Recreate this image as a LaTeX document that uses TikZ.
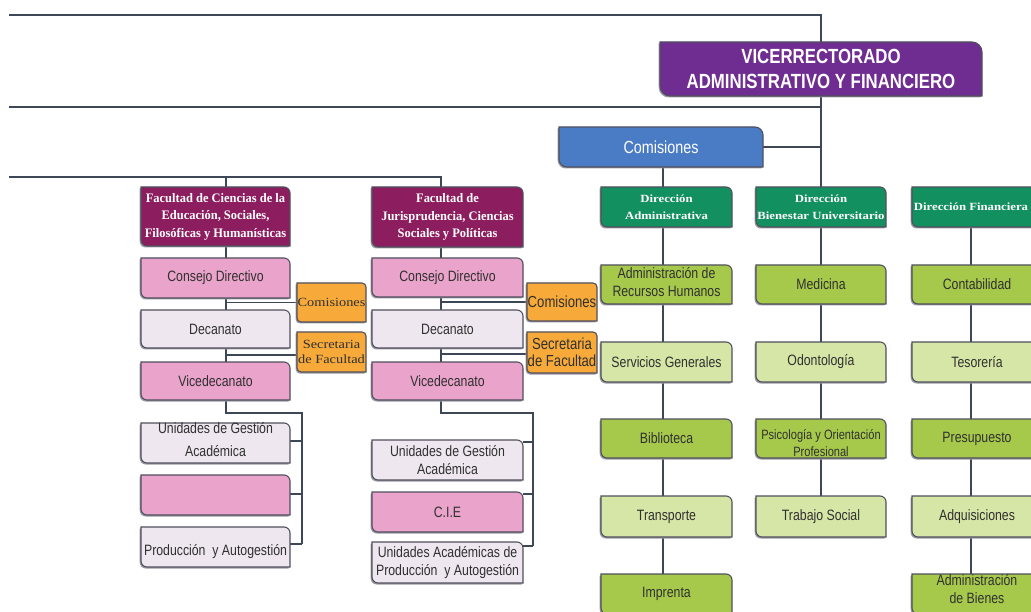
\documentclass[tikz,border=0pt]{standalone}
\usepackage{fontspec}
\setmainfont{Liberation Sans}
\newfontfamily\narf[FakeStretch=0.82]{Liberation Sans}
\newfontfamily\facf[FakeStretch=0.96]{Liberation Serif}
\newfontfamily\dirf[FakeStretch=1.16]{Liberation Serif}
\newfontfamily\orgf[FakeStretch=1.15]{Liberation Serif}
\definecolor{cpur}{HTML}{6F2C91}
\definecolor{cblu}{HTML}{4A7CC6}
\definecolor{cmar}{HTML}{8C1D5E}
\definecolor{cpnk}{HTML}{EAA3CB}
\definecolor{clgt}{HTML}{EFE7EF}
\definecolor{corg}{HTML}{F7AA3A}
\definecolor{ctea}{HTML}{13905F}
\definecolor{cdgr}{HTML}{A6C94C}
\definecolor{clgr}{HTML}{D6E6A6}
\definecolor{clin}{HTML}{3E4757}
\definecolor{cbdr}{HTML}{50505E}
\definecolor{ctxt}{HTML}{303030}
\definecolor{cshd}{HTML}{9A9AA4}
\pgfdeclarelayer{lines}
\pgfdeclarelayer{boxes}
\pgfsetlayers{lines,boxes,main}
\newcommand\dbox[3][6pt]{%
  \fill[cshd, transform canvas={shift={(-1.3pt,-1.5pt)}}] (#2.north west) -- ([xshift=-#1]#2.north east) arc[start angle=90,end angle=0,radius=#1] -- (#2.south east) -- ([xshift=#1]#2.south west) arc[start angle=270,end angle=180,radius=#1] -- cycle;
  \filldraw[fill=#3, draw=cbdr, line width=1.1pt] (#2.north west) -- ([xshift=-#1]#2.north east) arc[start angle=90,end angle=0,radius=#1] -- (#2.south east) -- ([xshift=#1]#2.south west) arc[start angle=270,end angle=180,radius=#1] -- cycle;}
\begin{document}
\begin{tikzpicture}[x=1pt,y=-1pt,
  bx/.style 2 args={minimum width=#1pt, minimum height=#2pt, inner sep=0pt, outer sep=0pt, align=center, text=ctxt, font=\narf\fontsize{15}{18}\selectfont},
  txt/.style={inner sep=0pt, outer sep=0pt, align=center, text=ctxt, font=\narf\fontsize{15}{18}\selectfont},
  factxt/.style={text=white, font=\facf\bfseries\fontsize{13}{17.5}\selectfont},
  dirtxt/.style={text=white, font=\dirf\bfseries\fontsize{11}{16.5}\selectfont},
  orgtxt/.style={font=\orgf\fontsize{12.5}{15}\selectfont},
  org2txt/.style={font=\narf\fontsize{16}{17}\selectfont},
  ln/.style={draw=clin, line width=1.3pt}]
\useasboundingbox (0,0) rectangle (1031,612);

% ---- top
\node[bx={322}{54}, text=white, font=\narf\bfseries\fontsize{20.5}{24.5}\selectfont] (vic) at (821,69) {VICERRECTORADO\\ADMINISTRATIVO Y FINANCIERO};
\node[bx={204}{40}, text=white, font=\narf\fontsize{17.5}{20}\selectfont] (com) at (661,147) {Comisiones};

% ---- faculty 1
\node[bx={149}{59}, factxt] (fac1) at (215.5,216.5) {Facultad de Ciencias de la\\Educación, Sociales,\\Filosóficas y Humanísticas};
\node[bx={149}{40}] (cd1) at (215.5,278) {Consejo Directivo};
\node[bx={149}{38}] (dec1) at (215.5,329) {Decanato};
\node[bx={149}{38}] (vice1) at (215.5,381) {Vicedecanato};
\node[bx={69}{39}, orgtxt] (com1) at (331.5,302.5) {Comisiones};
\node[bx={69}{40}, orgtxt] (sec1) at (331.5,352) {Secretaria\\de Facultad};
\node[bx={149}{40}] (ug1) at (215.5,443) {};
\node[txt, font=\narf\fontsize{15}{23}\selectfont] (ug1t) at (215.5,440) {Unidades de Gestión\\Académica};
\node[bx={149}{40}] (emp1) at (215.5,495) {};
\node[bx={149}{40}] (prod1) at (215.5,547) {};
\node[txt] (prod1t) at (215.5,552) {Producción\ \ y Autogestión};

% ---- faculty 2
\node[bx={151}{60}, factxt] (fac2) at (447.5,217) {Facultad de\\Jurisprudencia, Ciencias\\Sociales y Políticas};
\node[bx={151}{39}] (cd2) at (447.5,277.5) {Consejo Directivo};
\node[bx={151}{38}] (dec2) at (447.5,329) {Decanato};
\node[bx={151}{38}] (vice2) at (447.5,381) {Vicedecanato};
\node[bx={70}{38}, org2txt] (com2) at (562,302) {Comisiones};
\node[bx={70}{41}, org2txt] (sec2) at (562,352.5) {Secretaria\\de Facultad};
\node[bx={151}{40}] (ug2) at (447.5,460) {Unidades de Gestión\\Académica};
\node[bx={151}{40}] (cie) at (447.5,512) {C.I.E};
\node[bx={151}{41}] (uap) at (447.5,562.5) {Unidades Académicas de\\Producción\ \ y Autogestión};

% ---- direcciones
\node[bx={131}{40}, dirtxt] (da) at (666.5,207) {Dirección\\Administrativa};
\node[bx={130}{40}, dirtxt] (db) at (821,207) {Dirección\\Bienestar Universitario};
\node[bx={130}{40}] (df) at (977,207) {};
\node[txt, dirtxt] (dft) at (971,207) {Dirección Financiera};

\node[bx={131}{39}] (arh) at (666.5,284.5) {};
\node[txt] (arht) at (666.5,282) {Administración de\\Recursos Humanos};
\node[bx={131}{40}] (sg) at (666.5,362) {Servicios Generales};
\node[bx={131}{39}] (bib) at (666.5,438.5) {Biblioteca};
\node[bx={131}{41}] (tra) at (666.5,516.5) {Transporte};
\node[bx={131}{40}] (imp) at (666.5,594) {Imprenta};

\node[bx={130}{39}] (med) at (821,284.5) {Medicina};
\node[bx={130}{40}] (odo) at (821,362) {Odontología};
\node[bx={130}{39}] (psi) at (821,438.5) {};
\node[txt, font=\narf\fontsize{13.5}{17}\selectfont] (psit) at (821,443) {Psicología y Orientación\\Profesional};
\node[bx={130}{41}] (ts) at (821,516.5) {Trabajo Social};

\node[bx={130}{39}] (con) at (977,284.5) {Contabilidad};
\node[bx={130}{40}] (tes) at (977,362) {Tesorería};
\node[bx={130}{39}] (pre) at (977,438.5) {Presupuesto};
\node[bx={130}{41}] (adq) at (977,516.5) {Adquisiciones};
\node[bx={130}{40}] (ab) at (977,594) {};
\node[txt] (abt) at (977,589) {Administración\\de Bienes};

% ---- coordinates
\coordinate (l1w) at (9,15);
\coordinate (l1e) at (821,15);
\coordinate (l2w) at (9,107);
\coordinate (l2e) at (821,107);
\coordinate (l3w) at (9,177);
\coordinate (l3e) at (441,177);
\coordinate (c1) at (226,177);
\coordinate (colA) at (663,0);
\coordinate (colB) at (821,0);
\coordinate (colC) at (971,0);
\coordinate (bk1) at (302,413);
\coordinate (bk2) at (533,413);
\coordinate (u1a) at (290,441);
\coordinate (u1b) at (290,494);
\coordinate (u1c) at (290,544);
\coordinate (u2a) at (523,442);
\coordinate (u2b) at (523,494);
\coordinate (u2c) at (523,546);

\begin{pgfonlayer}{lines}
\fill[white] (0,0) rectangle (1031,612);
\draw[ln] (l1w) -- (l1e) -- (db.north);
\draw[ln] (l2w) -- (l2e);
\draw[ln] (com.east) -- (com.east -| l1e);
\draw[ln] (com.south -| colA) -- (da.north -| colA);
\draw[ln] (l3w) -- (l3e) -- (fac2.north -| l3e);
\draw[ln] (c1) -- (fac1.north -| c1);
% faculty 1
\draw[ln] (fac1.south -| c1) -- (vice1.north -| c1);
\draw[ln] (com1.west -| c1) -- (com1.west);
\draw[ln] ([yshift=-3pt]sec1.west -| c1) -- ([yshift=-3pt]sec1.west);
\draw[ln] (vice1.south -| c1) |- (bk1) -- (u1c -| bk1);
\draw[ln] (u1a) -- (u1a -| bk1);
\draw[ln] (u1b) -- (u1b -| bk1);
\draw[ln] (u1c) -- (u1c -| bk1);
% faculty 2
\draw[ln] (fac2.south -| l3e) -- (vice2.north -| l3e);
\draw[ln] (com2.west -| l3e) -- (com2.west);
\draw[ln] ([yshift=-1.5pt]sec2.west -| l3e) -- ([yshift=-1.5pt]sec2.west);
\draw[ln] (vice2.south -| l3e) |- (bk2) -- (u2c -| bk2);
\draw[ln] (u2a) -- (u2a -| bk2);
\draw[ln] (u2b) -- (u2b -| bk2);
\draw[ln] (u2c) -- (u2c -| bk2);
% direcciones
\draw[ln] (da.south -| colA) -- (imp.north -| colA);
\draw[ln] (db.south -| colB) -- (ts.north -| colB);
\draw[ln] (df.south -| colC) -- (ab.north -| colC);
\end{pgfonlayer}

\begin{pgfonlayer}{boxes}
\dbox[10pt]{vic}{cpur}
\dbox[8pt]{com}{cblu}
\dbox{fac1}{cmar}
\dbox{cd1}{cpnk}
\dbox{dec1}{clgt}
\dbox{vice1}{cpnk}
\dbox[4pt]{com1}{corg}
\dbox[4pt]{sec1}{corg}
\dbox{ug1}{clgt}
\dbox{emp1}{cpnk}
\dbox{prod1}{clgt}
\dbox{fac2}{cmar}
\dbox{cd2}{cpnk}
\dbox{dec2}{clgt}
\dbox{vice2}{cpnk}
\dbox[4pt]{com2}{corg}
\dbox[4pt]{sec2}{corg}
\dbox{ug2}{clgt}
\dbox{cie}{cpnk}
\dbox{uap}{clgt}
\dbox{da}{ctea}
\dbox{db}{ctea}
\dbox{df}{ctea}
\dbox{arh}{cdgr}
\dbox{sg}{clgr}
\dbox{bib}{cdgr}
\dbox{tra}{clgr}
\dbox{imp}{cdgr}
\dbox{med}{cdgr}
\dbox{odo}{clgr}
\dbox{psi}{cdgr}
\dbox{ts}{clgr}
\dbox{con}{cdgr}
\dbox{tes}{clgr}
\dbox{pre}{cdgr}
\dbox{adq}{clgr}
\dbox{ab}{cdgr}
\end{pgfonlayer}
\end{tikzpicture}
\end{document}
